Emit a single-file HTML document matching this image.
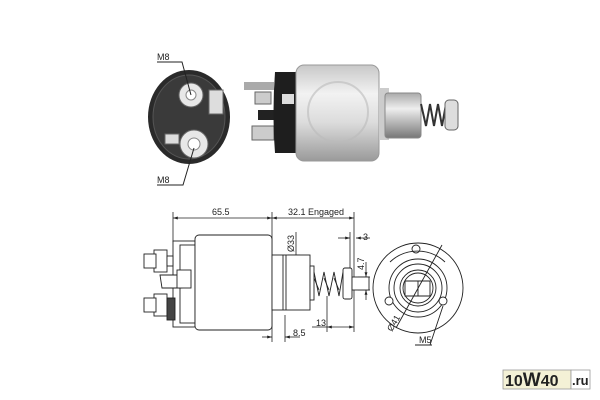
<!DOCTYPE html>
<html><head><meta charset="utf-8"><style>
html,body{margin:0;padding:0;background:#fff;width:600px;height:400px;overflow:hidden}
svg{display:block}
text{font-family:"Liberation Sans",sans-serif;fill:#222}
</style></head><body>
<svg width="600" height="400" viewBox="0 0 600 400" xmlns="http://www.w3.org/2000/svg">
<defs>
<linearGradient id="silver" x1="0" y1="0" x2="0" y2="1">
<stop offset="0" stop-color="#c8c8c8"/><stop offset="0.3" stop-color="#f2f2f2"/><stop offset="0.6" stop-color="#dcdcdc"/><stop offset="1" stop-color="#9a9a9a"/></linearGradient>
<linearGradient id="plg" x1="0" y1="0" x2="0" y2="1">
<stop offset="0" stop-color="#aaa"/><stop offset="0.35" stop-color="#eee"/><stop offset="1" stop-color="#777"/></linearGradient>
<marker id="a" viewBox="0 0 10 10" refX="10" refY="5" markerWidth="6" markerHeight="6" orient="auto-start-reverse"><path d="M0,2 L10,5 L0,8 z" fill="#222"/></marker>
</defs>

<!-- TOP: end view -->
<ellipse cx="189" cy="117" rx="41" ry="47" fill="#2a2a2a"/>
<ellipse cx="189" cy="117" rx="36" ry="42" fill="#3a3a3a" stroke="#555"/>
<circle cx="191" cy="95" r="12" fill="#e8e8e8" stroke="#666"/>
<circle cx="191" cy="95" r="5" fill="#fff" stroke="#888"/>
<rect x="209" y="90" width="14" height="24" fill="#ddd" stroke="#666"/>
<circle cx="194" cy="144" r="14" fill="#e8e8e8" stroke="#666"/>
<circle cx="194" cy="144" r="6" fill="#fff" stroke="#888"/>
<rect x="165" y="134" width="14" height="10" fill="#ddd" stroke="#666"/>
<polyline points="157,62 182,62 191,95" fill="none" stroke="#222"/>
<polyline points="157,185 183,185 194,148" fill="none" stroke="#222"/>
<text x="157" y="60" font-size="9">M8</text>
<text x="157" y="183" font-size="9">M8</text>

<!-- TOP: side view -->
<rect x="244" y="82" width="30" height="8" fill="#aaa"/>
<rect x="255" y="92" width="16" height="12" fill="#ccc" stroke="#666"/>
<rect x="252" y="126" width="22" height="14" fill="#ccc" stroke="#666"/>
<rect x="258" y="110" width="30" height="10" fill="#222"/>
<path d="M275,72 Q272,112 275,153 L300,153 L300,72 z" fill="#1e1e1e"/>
<rect x="282" y="94" width="12" height="10" fill="#ddd"/>
<rect x="296" y="65" width="83" height="96" rx="8" fill="url(#silver)" stroke="#999"/>
<rect x="379" y="88" width="10" height="52" fill="#ccc"/>
<rect x="385" y="93" width="36" height="45" rx="3" fill="url(#plg)" stroke="#888"/>
<path d="M421,104 L426,126 L430,104 L434,126 L438,104 L442,126 L446,104" fill="none" stroke="#333" stroke-width="2"/>
<rect x="445" y="100" width="13" height="30" rx="4" fill="#ddd" stroke="#666"/>
<circle cx="338" cy="112" r="30" fill="none" stroke="#bbb" stroke-width="2" opacity="0.6"/>

<!-- BOTTOM: dimensions -->
<g stroke="#222" stroke-width="0.8" fill="none">
<line x1="173" y1="212" x2="173" y2="242"/>
<line x1="272" y1="212" x2="272" y2="342"/>
<line x1="354" y1="212" x2="354" y2="332"/>
<line x1="173" y1="218" x2="272" y2="218" marker-start="url(#a)" marker-end="url(#a)"/>
<line x1="272" y1="218" x2="354" y2="218" marker-start="url(#a)" marker-end="url(#a)"/>
<line x1="338" y1="238" x2="350" y2="238" marker-end="url(#a)"/>
<line x1="370" y1="238" x2="356" y2="238" marker-end="url(#a)"/>
<line x1="350" y1="232" x2="350" y2="270"/>
<line x1="243" y1="236" x2="243" y2="329" marker-start="url(#a)" marker-end="url(#a)"/>
<line x1="296" y1="232" x2="296" y2="310" marker-end="url(#a)"/>
<line x1="288" y1="255" x2="300" y2="255"/>
<line x1="366" y1="262" x2="366" y2="277" marker-end="url(#a)"/>
<line x1="366" y1="300" x2="366" y2="290" marker-end="url(#a)"/>
<line x1="358" y1="277" x2="370" y2="277"/><line x1="358" y1="290" x2="370" y2="290"/>
<line x1="327" y1="296" x2="327" y2="332"/>
<line x1="312" y1="327" x2="327" y2="327"/>
<line x1="327" y1="327" x2="354" y2="327" marker-start="url(#a)" marker-end="url(#a)"/>
<line x1="285" y1="315" x2="285" y2="342"/>
<line x1="262" y1="337" x2="272" y2="337" marker-end="url(#a)"/>
<line x1="300" y1="337" x2="285" y2="337" marker-end="url(#a)"/>
</g>
<text x="212" y="215" font-size="9">65.5</text>
<text x="288" y="215" font-size="9">32.1 Engaged</text>
<text x="363" y="240" font-size="9">3</text>
<text x="316" y="326" font-size="9">13</text>
<text x="293" y="336" font-size="9">8.5</text>
<text transform="translate(240,296) rotate(-90)" font-size="9">Ø56.4</text>
<text transform="translate(294,252) rotate(-90)" font-size="9">Ø33</text>
<text transform="translate(364,270) rotate(-90)" font-size="9">4.7</text>

<!-- BOTTOM: side drawing -->
<g stroke="#222" stroke-width="0.9" fill="#fff">
<rect x="173" y="241" width="22" height="86"/>
<rect x="180" y="245" width="15" height="78"/>
<rect x="195" y="235" width="77" height="95" rx="4"/>
<rect x="154" y="250" width="13" height="22"/>
<rect x="144" y="254" width="12" height="14"/>
<rect x="167" y="256" width="6" height="10"/>
<rect x="154" y="294" width="13" height="22"/>
<rect x="144" y="298" width="12" height="14"/>
<rect x="167" y="298" width="8" height="22" fill="#444"/>
<path d="M160,275 L180,275 L182,288 L162,288 z"/>
<rect x="177" y="270" width="14" height="18"/>
<rect x="272" y="255" width="38" height="55"/>
<line x1="283" y1="255" x2="283" y2="310"/>
<line x1="286" y1="255" x2="286" y2="310"/>
<rect x="310" y="266" width="4" height="34"/>
<path d="M314,272 L319,296 L324,272 L329,296 L334,272 L339,296 L343,272" fill="none"/>
<path d="M314,278 L319,290 M324,278 L329,290 M334,278 L339,290" fill="none"/>
<rect x="343" y="268" width="9" height="31" rx="2"/>
<rect x="352" y="277" width="17" height="13"/>
</g>

<!-- BOTTOM: end view -->
<g stroke="#222" stroke-width="0.9" fill="none">
<circle cx="418" cy="288" r="45" fill="#fff"/>
<circle cx="418" cy="288" r="29"/>
<circle cx="418" cy="288" r="24"/>
<circle cx="418" cy="288" r="18"/>
<circle cx="418" cy="288" r="15"/>
<path d="M405,281 L430,281 L430,296 L405,296 z"/>
<line x1="418" y1="281" x2="418" y2="296"/>
<circle cx="416" cy="249" r="4" fill="#fff"/>
<circle cx="389" cy="301" r="4" fill="#fff"/>
<circle cx="443" cy="301" r="4" fill="#fff"/>
<path d="M390,262 A40,40 0 0,1 445,262" />
<line x1="442" y1="245" x2="396" y2="328"/>
<line x1="443" y1="306" x2="430" y2="345"/>
<line x1="415" y1="345" x2="432" y2="345"/>
</g>
<text transform="translate(392,332) rotate(-60)" font-size="9">Ø41</text>
<text x="419" y="343" font-size="9">M5</text>

<!-- watermark -->
<rect x="503" y="370" width="68" height="19" fill="#f4f1d6" stroke="#999" stroke-width="0.8"/>
<rect x="571" y="370" width="19" height="19" fill="#fff" stroke="#999" stroke-width="0.8"/>
<text x="505" y="386" font-size="16" font-weight="bold" fill="#333">10<tspan font-size="19" font-weight="900">W</tspan>40</text>
<text x="572" y="385" font-size="13" font-weight="bold" fill="#333">.ru</text>
</svg>
</body></html>
